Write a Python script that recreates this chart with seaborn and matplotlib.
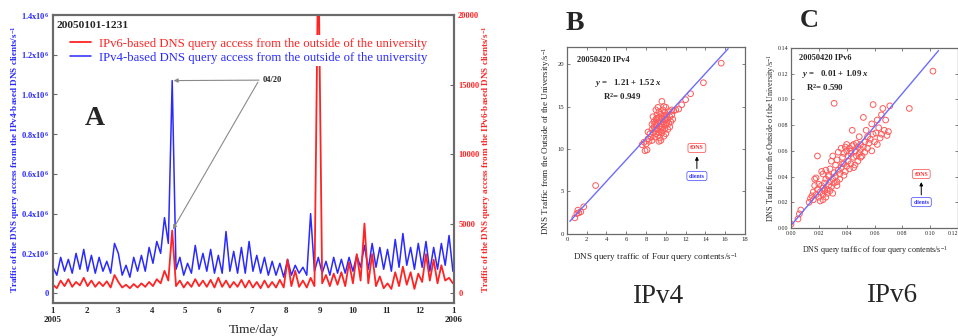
import numpy as np
import pandas as pd
import matplotlib
matplotlib.use("Agg")
import matplotlib.pyplot as plt
import seaborn as sns

# ---------------- data ----------------
# Panel A: half-week samples through 2005 (thousands of queries for IPv4)
ipv4_k = [130, 90, 180, 110, 170, 100, 200, 120, 220, 110,
          190, 100, 180, 110, 160, 100, 250, 200, 90, 140,
          80, 180, 110, 190, 110, 230, 150, 260, 200, 380,
          250, 1070, 120, 180, 90, 150, 100, 240, 120, 200,
          110, 220, 100, 190, 100, 310, 110, 210, 100, 230,
          100, 260, 110, 190, 100, 180, 90, 160, 90, 150,
          80, 170, 90, 140, 100, 130, 90, 400, 110, 180,
          100, 160, 90, 180, 100, 170, 100, 180, 110, 190,
          130, 240, 120, 250, 130, 230, 120, 220, 110, 270,
          130, 300, 140, 230, 120, 250, 130, 260, 110, 230,
          120, 250, 140, 290, 110]
ipv6 = [600, 350, 900, 500, 1000, 450, 800, 550, 1100, 500,
        900, 450, 800, 500, 850, 400, 1300, 800, 400, 600,
        350, 650, 400, 700, 450, 800, 500, 1000, 700, 1600,
        900, 4500, 500, 900, 400, 800, 450, 1000, 500, 900,
        450, 950, 400, 1100, 450, 900, 400, 800, 450, 950,
        400, 900, 400, 800, 350, 900, 400, 800, 400, 950,
        400, 2400, 500, 1600, 450, 900, 400, 1100, 500, 25000,
        700, 1300, 500, 1400, 600, 1500, 500, 2200, 700, 2800,
        900, 5000, 700, 2800, 500, 1200, 350, 700, 300, 1500,
        500, 1900, 600, 1500, 300, 1400, 800, 2800, 900, 2400,
        700, 2000, 900, 1100, 700]
month_start_day = [0, 31, 59, 90, 120, 151, 181, 212, 243, 273, 304, 334, 365]
month_labels = ["1\n2005", "2", "3", "4", "5", "6", "7", "8", "9", "10", "11", "12", "1\n2006"]
left_ticks = [0, 0.2e6, 0.4e6, 0.6e6, 0.8e6, 1.0e6, 1.2e6, 1.4e6]
left_tick_labels = ["0", "0.2x10$^6$", "0.4x10$^6$", "0.6x10$^6$", "0.8x10$^6$",
                    "1.0x10$^6$", "1.2x10$^6$", "1.4x10$^6$"]
right_ticks = [0, 5000, 10000, 15000, 20000]
spike_index = 31

# Panel B: IPv4 scatter
b_x = [0.8, 1.0, 1.2, 1.1, 1.4, 1.7, 2.9,
       7.6, 7.8, 7.9, 8.1, 8.0, 8.2, 8.3, 8.4, 8.2, 8.5, 8.6, 8.6, 8.7, 8.8,
       8.8, 8.9, 8.9, 9.0, 9.0, 9.0, 9.1, 9.1, 9.2, 9.2, 9.3, 9.3, 9.3, 9.4,
       9.4, 9.4, 9.5, 9.5, 9.5, 9.6, 9.6, 9.6, 9.6, 9.7, 9.7, 9.7, 9.8, 9.8,
       9.8, 9.9, 9.9, 9.9, 10.0, 10.0, 10.0, 10.1, 10.1, 10.2, 10.2, 10.3,
       10.4, 10.5, 10.6, 10.7, 10.8, 10.6, 9.0, 9.2, 8.7, 8.9, 9.5, 10.0,
       9.3, 8.6, 10.4, 9.8, 10.3, 9.1, 11.0, 11.3, 11.6, 12.0, 12.5, 13.8, 15.6]
b_y = [1.9, 2.4, 2.5, 2.8, 2.6, 3.2, 5.7,
       10.5, 10.8, 9.8, 9.9, 10.6, 11.2, 10.9, 11.8, 12.0, 11.4, 12.3, 12.9, 11.9, 12.6,
       13.2, 11.4, 12.2, 13.5, 12.8, 11.8, 14.0, 12.4, 13.1, 11.6, 12.0, 13.7, 14.4, 12.7,
       13.3, 11.3, 14.1, 12.3, 13.0, 15.6, 13.6, 11.9, 12.6, 14.6, 13.2, 12.2, 13.9, 12.9,
       11.5, 14.3, 13.4, 12.4, 14.9, 13.7, 12.8, 13.1, 14.0, 12.3, 13.5, 14.4,
       13.8, 13.2, 14.0, 13.5, 14.5, 14.6, 14.6, 14.9, 13.8, 13.0, 11.0, 11.8,
       10.9, 11.0, 12.6, 15.0, 13.0, 13.6, 14.6, 14.7, 15.2, 15.8, 16.5, 17.8, 20.1]
b_fit_x = [0.3, 16.3]
b_fit_y = [1.5, 21.8]

# Panel C: IPv6 scatter
c_x = [0.000, 0.005, 0.006, 0.007, 0.013, 0.014, 0.015, 0.016, 0.016, 0.017,
       0.017, 0.018, 0.018, 0.019, 0.019, 0.020, 0.020, 0.021, 0.021, 0.022,
       0.022, 0.023, 0.023, 0.023, 0.023, 0.024, 0.024, 0.025, 0.025, 0.025,
       0.026, 0.026, 0.027, 0.027, 0.028, 0.028, 0.028, 0.029, 0.029, 0.030,
       0.030, 0.030, 0.031, 0.031, 0.031, 0.032, 0.032, 0.033, 0.033, 0.033,
       0.034, 0.034, 0.035, 0.035, 0.036, 0.036, 0.037, 0.037, 0.038, 0.038,
       0.039, 0.039, 0.040, 0.040, 0.040, 0.041, 0.041, 0.042, 0.042, 0.043,
       0.043, 0.044, 0.044, 0.045, 0.045, 0.046, 0.046, 0.047, 0.047, 0.048,
       0.048, 0.049, 0.049, 0.050, 0.050, 0.051, 0.052, 0.052, 0.053, 0.053,
       0.054, 0.055, 0.055, 0.056, 0.057, 0.058, 0.058, 0.059, 0.059, 0.060,
       0.061, 0.062, 0.062, 0.063, 0.064, 0.065, 0.065, 0.066, 0.067, 0.068,
       0.069, 0.070, 0.071, 0.085, 0.102, 0.045, 0.043, 0.038, 0.027, 0.050]
c_y = [0.003, 0.007, 0.011, 0.014, 0.020, 0.023, 0.025, 0.022, 0.028, 0.033,
       0.038, 0.039, 0.026, 0.030, 0.056, 0.024, 0.034, 0.021, 0.028, 0.033,
       0.044, 0.022, 0.026, 0.031, 0.042, 0.035, 0.029, 0.024, 0.038, 0.045,
       0.030, 0.027, 0.033, 0.041, 0.029, 0.046, 0.036, 0.032, 0.052, 0.056,
       0.038, 0.027, 0.097, 0.035, 0.043, 0.040, 0.049, 0.036, 0.033, 0.053,
       0.045, 0.059, 0.038, 0.042, 0.062, 0.047, 0.050, 0.055, 0.041, 0.058,
       0.063, 0.044, 0.048, 0.060, 0.065, 0.052, 0.056, 0.062, 0.046, 0.058,
       0.050, 0.064, 0.076, 0.055, 0.047, 0.060, 0.049, 0.056, 0.066, 0.052,
       0.063, 0.058, 0.071, 0.061, 0.065, 0.056, 0.086, 0.063, 0.067, 0.059,
       0.076, 0.062, 0.071, 0.066, 0.069, 0.081, 0.060, 0.096, 0.073, 0.067,
       0.074, 0.084, 0.065, 0.078, 0.070, 0.088, 0.073, 0.093, 0.076, 0.084,
       0.072, 0.075, 0.095, 0.093, 0.122, 0.065, 0.060, 0.050, 0.040, 0.055]
c_fit_x = [0.0, 0.106]
c_fit_y = [0.002, 0.138]

# ---------------- style ----------------
sns.set_style("white")
plt.rcParams["font.family"] = ["Liberation Serif", "DejaVu Serif"]
plt.rcParams["mathtext.fontset"] = "custom"
plt.rcParams["mathtext.rm"] = "Liberation Serif"
plt.rcParams["mathtext.it"] = "Liberation Serif:italic:bold"
plt.rcParams["mathtext.bf"] = "Liberation Serif:bold"
plt.rcParams["mathtext.default"] = "regular"

BLUE = "#2a2aff"
RED = "#ff2424"
SPINE = "#6a6a6a"

fig = plt.figure(figsize=(9.58, 3.36), dpi=100)

# ---------------- Panel A ----------------
day = np.arange(len(ipv4_k)) * 3.5
dfA = pd.DataFrame({"day": day, "ipv4": np.array(ipv4_k) * 1000.0, "ipv6": ipv6})

ax = fig.add_axes([0.0553, 0.0982, 0.4186, 0.857])
ax2 = ax.twinx()
sns.lineplot(data=dfA, x="day", y="ipv4", ax=ax, color=BLUE, lw=1.1)
sns.lineplot(data=dfA, x="day", y="ipv6", ax=ax2, color=RED, lw=1.3)

ax.set_xlim(0, 365)
ax.set_ylim(-0.05e6, 1.4e6)
ax2.set_ylim(-714, 20000)
ax.set_xticks(month_start_day)
ax.set_xticklabels(month_labels, fontsize=6.5, fontweight="bold", linespacing=1.1)
ax.set_yticks(left_ticks)
ax.set_yticklabels(left_tick_labels, fontsize=6, fontweight="bold", color=BLUE)
ax2.set_yticks(right_ticks)
ax2.set_yticklabels([str(v) for v in right_ticks], fontsize=6, fontweight="bold", color=RED)
ax.tick_params(axis="both", direction="in", length=3, width=0.8, color=SPINE, pad=3)
ax2.tick_params(axis="y", direction="in", length=3, width=0.8, color=SPINE, pad=3)
for a in (ax, ax2):
    for s in a.spines.values():
        s.set_color(SPINE)
        s.set_linewidth(1.5)
        s.set_visible(True)
ax.set_ylabel("Traffic of the DNS query access from the IPv4-based DNS clients/s$^{-1}$",
              color=BLUE, fontsize=6.6, fontweight="bold", labelpad=-1)
ax2.set_ylabel("Traffic of the DNS query access from the IPv6-based DNS clients/s$^{-1}$",
               color=RED, fontsize=6.6, fontweight="bold", labelpad=0.5)
ax.set_xlabel("Time/day", fontsize=9.5, labelpad=0)

leg = ax2.legend(handles=[ax2.lines[0], ax.lines[0]],
                 labels=["IPv6-based DNS query access from the outside of the university",
                         "IPv4-based DNS query access from the outside of the university"],
                 loc="upper left", bbox_to_anchor=(0.035, 0.93), borderaxespad=0,
                 frameon=True, facecolor="white", edgecolor="none", framealpha=1,
                 fontsize=9.2, handlelength=1.7, handletextpad=0.6, labelspacing=0.15,
                 borderpad=0.2, labelcolor=[RED, BLUE])

ax2.text(0.01, 0.962, "20050101-1231", transform=ax.transAxes, fontsize=8.2,
         fontweight="bold", va="center", ha="left")
ax2.text(0.105, 0.618, "A", transform=ax.transAxes, fontsize=20, fontweight="bold",
         va="baseline", ha="center")

arrow_kw = dict(arrowstyle="-|>", color="#8a8a8a", lw=0.8, mutation_scale=6,
                shrinkA=0, shrinkB=1)
ax2.annotate("04/20", xy=(day[spike_index], ipv4_k[spike_index] * 1000.0), xycoords=ax.transData,
             xytext=(0.522, 0.774), textcoords="axes fraction",
             fontsize=6, fontweight="bold", va="center", ha="left",
             arrowprops=dict(relpos=(0, 0.5), **arrow_kw))
ax2.annotate("", xy=(day[spike_index], ipv6[spike_index]), xycoords="data",
             xytext=(0.511, 0.767), textcoords="axes fraction",
             arrowprops=arrow_kw)

# ---------------- Panels B and C ----------------
def scatter_panel(rect, xs, ys, fx, fy, xlim, ylim, xticks, yticks, xfmt,
                  ylabel, xlabel, tag, eq, r2, box_x, tdns_y, cli_y, lab_fs, ylpad, xlpad,
                  tick_fs):
    a = fig.add_axes(rect)
    df = pd.DataFrame({"x": xs, "y": ys})
    sns.lineplot(x=fx, y=fy, ax=a, color="#6c6cff", lw=1.0)
    sns.scatterplot(data=df, x="x", y="y", ax=a, marker="o", s=17,
                    facecolor="none", edgecolor="#ff5a5a", linewidth=0.7)
    a.set_xlim(*xlim)
    a.set_ylim(*ylim)
    a.set_xticks(xticks)
    a.set_xticklabels([xfmt.format(v) for v in xticks], fontsize=tick_fs)
    a.set_yticks(yticks)
    a.set_yticklabels([xfmt.format(v) for v in yticks], fontsize=tick_fs)
    a.tick_params(direction="in", length=2, width=0.6, color=SPINE, pad=2,
                  top=True, right=True, bottom=True, left=True)
    for s in a.spines.values():
        s.set_color(SPINE)
        s.set_linewidth(0.9)
        s.set_visible(True)
    a.set_ylabel(ylabel, fontsize=lab_fs, labelpad=ylpad)
    a.set_xlabel(xlabel, fontsize=lab_fs, labelpad=xlpad)
    a.text(tag[0], tag[1], tag[2], transform=a.transAxes, fontsize=6, fontweight="bold",
           va="center", ha="left")
    a.text(eq[0], eq[1], eq[2], transform=a.transAxes, fontsize=6.3, fontweight="bold",
           va="center", ha="left")
    a.text(r2[0], r2[1], r2[2], transform=a.transAxes, fontsize=6.3, fontweight="bold",
           va="center", ha="left")
    a.text(box_x, tdns_y, "tDNS", transform=a.transAxes, fontsize=4.2, fontweight="bold",
           color="#ff3030", ha="center", va="center",
           bbox=dict(boxstyle="round,pad=0.35", fc="white", ec="#ff6060", lw=0.6))
    a.text(box_x, cli_y, "clients", transform=a.transAxes, fontsize=4.2, fontweight="bold",
           color="#3030ff", ha="center", va="center",
           bbox=dict(boxstyle="round,pad=0.35", fc="white", ec="#6060ff", lw=0.6))
    a.annotate("", xy=(box_x, tdns_y - 0.045), xytext=(box_x, cli_y + 0.04),
               xycoords="axes fraction", textcoords="axes fraction",
               arrowprops=dict(arrowstyle="-|>", color="k", lw=0.7, mutation_scale=5,
                               shrinkA=0, shrinkB=0))
    return a

axB = scatter_panel([0.5918, 0.3036, 0.1858, 0.5565], b_x, b_y, b_fit_x, b_fit_y,
                    (0, 18), (0, 22), list(range(0, 19, 2)), [0, 5, 10, 15, 20], "{:g}",
                    "DNS Traffic from the Outside of the University/s$^{-1}$",
                    "DNS query traffic of Four query contents/s$^{-1}$",
                    (0.056, 0.93, "20050420 IPv4"),
                    (0.157, 0.807, "$\\mathit{y}$ =   1.21 + 1.52 $\\mathit{x}$"),
                    (0.2, 0.733, "R$^2$= 0.949"),
                    0.73, 0.46, 0.31, 6.6, 3, 7, 4.8)

axC = scatter_panel([0.8257, 0.3214, 0.1743, 0.5357], c_x, c_y, c_fit_x, c_fit_y,
                    (0, 0.12), (0, 0.14), [0, 0.02, 0.04, 0.06, 0.08, 0.10, 0.12],
                    [0, 0.02, 0.04, 0.06, 0.08, 0.10, 0.12, 0.14], "{:.2f}",
                    "DNS Traffic from the Outside of the University/s$^{-1}$",
                    "DNS query traffic of four query contents/s$^{-1}$",
                    (0.048, 0.944, "20050420 IPv6"),
                    (0.066, 0.855, "$\\mathit{y}$ =   0.01 + 1.09 $\\mathit{x}$"),
                    (0.09, 0.78, "R$^2$= 0.590"),
                    0.78, 0.30, 0.144, 5.9, 0, 6, 4.3)
# keep the last x tick label inside the figure
axC.get_xticklabels()[-1].set_horizontalalignment("right")

# ---------------- panel letters & captions ----------------
fig.text(575 / 958, 1 - 30 / 336, "B", fontsize=20, fontweight="bold", ha="center", va="baseline")
fig.text(809 / 958, 1 - 27 / 336, "C", fontsize=19, fontweight="bold", ha="center", va="baseline")
fig.text(658 / 958, 1 - 303 / 336, "IPv4", fontsize=19.5, ha="center", va="baseline")
fig.text(892 / 958, 1 - 302 / 336, "IPv6", fontsize=19.5, ha="center", va="baseline")

fig.savefig("out.png", dpi=100)
